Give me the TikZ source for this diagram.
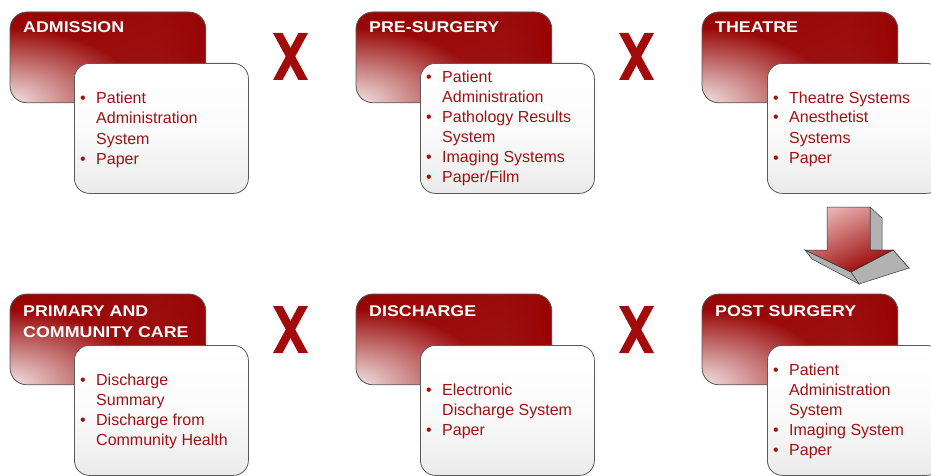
\documentclass[tikz,border=0pt]{standalone}
\usepackage{fontspec}
\setmainfont{Liberation Sans}
\newfontfamily\titlefont{Liberation Sans}[FakeStretch=1.15]
\usetikzlibrary{fadings}
\definecolor{rdark}{HTML}{980404}
\definecolor{rlight}{HTML}{F2E4E4}
\definecolor{rband}{HTML}{BE6666}
\definecolor{txtred}{HTML}{A01212}
\definecolor{xred}{HTML}{A30A0A}
\definecolor{edge}{HTML}{5A5A5A}
\definecolor{arlight}{HTML}{EBB4B4}
\tikzfading[name=glow, inner color=transparent!0, outer color=transparent!100]
\newcommand\bu{\textbullet}
\newcommand\lst[1]{\begin{tabular}[t]{@{}p{16pt}@{}l@{}}#1\end{tabular}}
\tikzset{
  redbox/.style={draw=edge, line width=0.8pt, rounded corners=17pt, minimum width=195pt, minimum height=90pt, inner sep=0pt, fill=rdark},
  whitebox/.style={draw=edge, line width=0.8pt, rounded corners=15pt, minimum width=174pt, minimum height=130pt, inner sep=0pt, top color=white, bottom color=gray!16, middle color=white!97!gray},
  titletext/.style={inner sep=0pt, anchor=base west, text=white, font=\titlefont\bfseries\fontsize{15.5}{21}\selectfont, align=left},
  listtext/.style={inner sep=0pt, anchor=base west, text=txtred, font=\fontsize{16}{20}\selectfont},
  xmark/.style={fill=xred},
}
\newcommand\redbx[3]{% name, x, y
  \node[redbox, anchor=north west] (#1) at (#2,#3) {};
  \begin{scope}
    \clip[rounded corners=17pt] (#1.north west) rectangle (#1.south east);
    \shade[transform canvas={rotate around={23:(#1.center)}}, top color=rdark, middle color=rband, bottom color=rdark!80!rband]
      ([shift={(-130,-80)}]#1.center) rectangle ([shift={(130,80)}]#1.center);
    \fill[rdark, path fading=west] ([xshift=-45pt]#1.north east) rectangle (#1.south east);
    \fill[rlight, path fading=glow] (#1.south west) ellipse (130 and 75);
  \end{scope}
  \draw[edge, line width=0.8pt, rounded corners=17pt] (#1.north west) rectangle (#1.south east);
}
\newcommand\xmk[3]{% name, left x, top y
  \coordinate (#1) at (#2,#3);
  \fill[xmark] (#1) -- ++(9.5,0) -- ++(25.5,47) -- ++(-9.5,0) -- cycle;
  \fill[xmark] ([xshift=25.5pt]#1) -- ++(9.5,0) -- ++(-25.5,47) -- ++(-9.5,0) -- cycle;
}
\begin{document}
\begin{tikzpicture}[x=1pt,y=-1pt]
\useasboundingbox (0,0) rectangle (931,476);
\clip (0,0) rectangle (931,476);
% ---- top row
\redbx{admR}{10}{12}
\node[whitebox, anchor=north west] (admW) at (74,63) {};
\node[titletext] (admT) at (23,33) {ADMISSION};
\node[listtext] (admL) at (80,104) {\lst{\bu & Patient\\ & Administration\\ & System\\ \bu & Paper}};

\redbx{preR}{356}{12}
\node[whitebox, anchor=north west] (preW) at (420,63) {};
\node[titletext] (preT) at (369,33) {PRE-SURGERY};
\node[listtext] (preL) at (426,83) {\lst{\bu & Patient\\ & Administration\\ \bu & Pathology Results\\ & System\\ \bu & Imaging Systems\\ \bu & Paper/Film}};

\redbx{theR}{702}{12}
\node[whitebox, anchor=north west] (theW) at (767,63) {};
\node[titletext] (theT) at (715,33) {THEATRE};
\node[listtext] (theL) at (773,103) {\lst{\bu & Theatre Systems\\ \bu & Anesthetist\\ & Systems\\ \bu & Paper}};

% ---- bottom row
\redbx{priR}{10}{294}
\node[whitebox, anchor=north west] (priW) at (74,345) {};
\node[titletext] (priT) at (23,337) {PRIMARY AND\\COMMUNITY CARE};
\node[listtext] (priL) at (80,385) {\lst{\bu & Discharge\\ & Summary\\ \bu & Discharge from\\ & Community Health}};

\redbx{disR}{356}{294}
\node[whitebox, anchor=north west] (disW) at (420,345) {};
\node[titletext] (disT) at (369,316) {DISCHARGE};
\node[listtext] (disL) at (426,395) {\lst{\bu & Electronic\\ & Discharge System\\ \bu & Paper}};

\redbx{posR}{702}{294}
\node[whitebox, anchor=north west] (posW) at (767,345) {};
\node[titletext] (posT) at (715,316) {POST SURGERY};
\node[listtext] (posL) at (773,375) {\lst{\bu & Patient\\ & Administration\\ & System\\ \bu & Imaging System\\ \bu & Paper}};

% ---- X marks
\xmk{x1}{273}{33}
\xmk{x2}{619}{33}
\xmk{x3}{273}{306}
\xmk{x4}{619}{306}

% ---- 3D down arrow
\coordinate (a1) at (827,207);
\coordinate (a2) at (870,207);
\coordinate (a3) at (870,250);
\coordinate (a4) at (893,250);
\coordinate (a5) at (851,272);
\coordinate (a6) at (805,250);
\coordinate (a7) at (827,250);
\coordinate (b2) at (882,218);
\coordinate (b3) at (882,262);
\coordinate (b4) at (909,268);
\coordinate (b5) at (859,284);
\coordinate (b6) at (812,259);
\begin{scope}[draw=gray!45!black, line width=0.5pt, fill=gray!60]
  \filldraw (a2) -- (b2) -- (b3) -- (a3) -- cycle;
  \filldraw (a3) -- (b3) -- (b4) -- (a4) -- cycle;
  \filldraw (a4) -- (b4) -- (b5) -- (a5) -- cycle;
  \filldraw (a5) -- (b5) -- (b6) -- (a6) -- cycle;
\end{scope}
\shade[draw=gray!40!black, line width=0.5pt, top color=arlight, bottom color=rdark, shading angle=25]
  (a1) -- (a2) -- (a3) -- (a4) -- (a5) -- (a6) -- (a7) -- cycle;
\end{tikzpicture}
\end{document}
